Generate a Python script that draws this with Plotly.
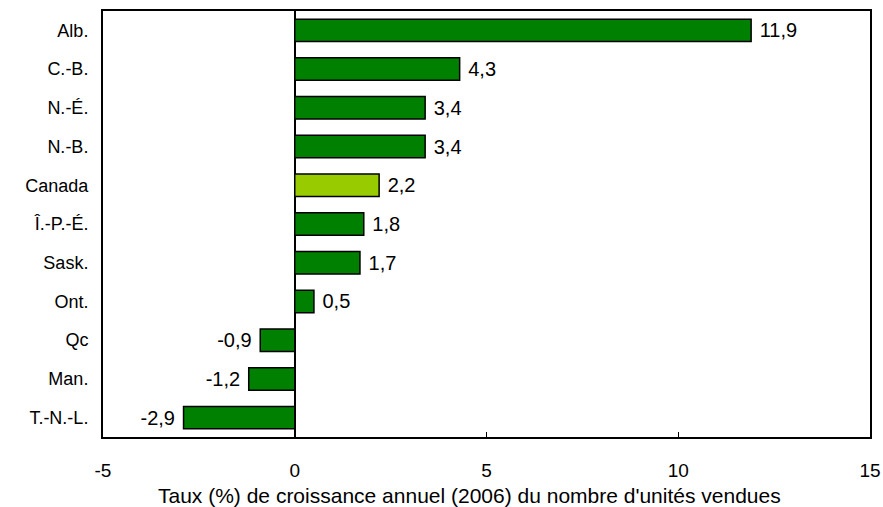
import plotly.graph_objects as go

categories = ["Alb.", "C.-B.", "N.-É.", "N.-B.", "Canada", "Î.-P.-É.", "Sask.", "Ont.", "Qc", "Man.", "T.-N.-L."]
values = [11.9, 4.3, 3.4, 3.4, 2.2, 1.8, 1.7, 0.5, -0.9, -1.2, -2.9]
tick_vals = [-5, 0, 5, 10, 15]
tick_text = ["-5", "0", "5", "10", "15"]
x_title = "Taux (%) de croissance annuel (2006) du nombre d'unités vendues"
labels = [(" " + f"{v:.1f}".replace(".", ",")) if v >= 0 else (f"{v:.1f}".replace(".", ",") + " ") for v in values]
colors = ["#99CC00" if c == "Canada" else "#008000" for c in categories]

FONT = "Liberation Sans, Arial, Helvetica"

fig = go.Figure(go.Bar(
    y=categories, x=values, orientation="h",
    marker=dict(color=colors, line=dict(color="black", width=1.5)),
    width=0.58,
    text=labels, textposition="outside", cliponaxis=False,
    textfont=dict(family=FONT, size=20, color="black"),
))

fig.update_layout(
    width=883, height=507,
    margin=dict(l=103, r=13, t=11, b=70),
    paper_bgcolor="white", plot_bgcolor="white",
    font=dict(family=FONT, size=18, color="black"),
    showlegend=False,
    xaxis=dict(range=[-5, 15], tickvals=tick_vals, ticktext=tick_text, showgrid=False,
               zeroline=True, zerolinecolor="black", zerolinewidth=1.5,
               showline=True, linecolor="black", linewidth=2, mirror=True,
               ticks="inside", ticklen=5, tickcolor="black", ticklabelstandoff=15,
               tickfont=dict(size=19),
               automargin=False),
    yaxis=dict(autorange="reversed", showgrid=False, showline=True, linecolor="black", linewidth=2, mirror=True,
               ticks="", ticklabelstandoff=9, tickfont=dict(size=18), automargin=False),
    annotations=[dict(text=x_title, xref="paper", yref="paper", x=0.5, y=0, xanchor="center", yanchor="top",
                      xshift=-17, yshift=-45, showarrow=False, font=dict(size=21, family=FONT, color="black"))],
)

fig.write_html("out.html")
